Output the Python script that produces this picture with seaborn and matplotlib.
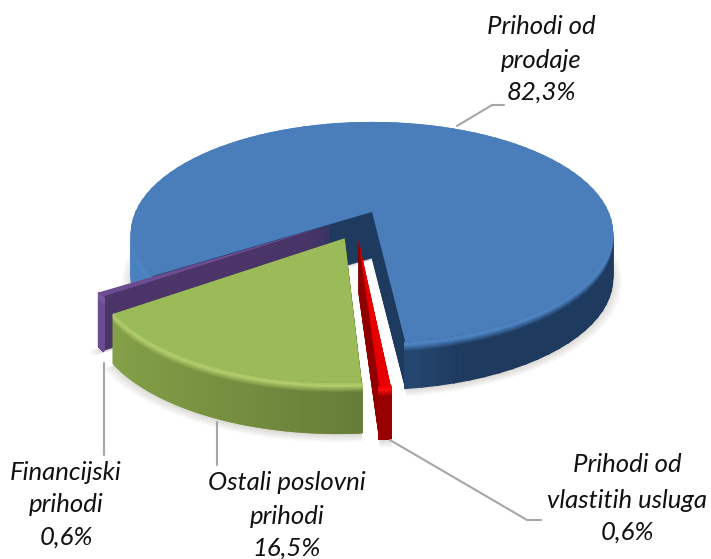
import numpy as np
import seaborn as sns
import matplotlib
matplotlib.use("Agg")
import matplotlib.pyplot as plt
from matplotlib.collections import LineCollection
from matplotlib.patches import Wedge
from matplotlib.transforms import Transform

# order is counter clockwise, starting from the cut at the front of the big slice
names = ["Prihodi od\nprodaje", "Financijski\nprihodi", "Ostali poslovni\nprihodi", "Prihodi od\nvlastitih usluga"]
shares = [82.3, 0.6, 16.5, 0.6]
explode = [0.0, 0.21, 0.26, 0.26]

top_cols = ["#4a7ebb", "#6b4c90", "#9bbb59", "#e80000"]
rim_cols = ["#4f86c6", "#7d5fa8", "#b6d06f", "#ff1010"]
wall_dark = ["#1e3a5f", "#4a3468", "#5f7433", "#8f0000"]
wall_light = ["#4a82c0", "#6a4c90", "#84a048", "#c00000"]
depths = [46, 54, 50, 52]

# projection of the flat pie onto the picture, in pixels
CX, CY = 372, 212
RX, RY, PERSP = 236, 106.7, 0.1855


class Tilt(Transform):
    input_dims = 2
    output_dims = 2

    def __init__(self, z=0):
        super().__init__()
        self.z = z

    def transform_non_affine(self, values):
        values = np.asarray(values, dtype=float)
        w = 1 + PERSP * values[:, 1]
        return np.column_stack([CX + RX * values[:, 0] / w,
                                CY - RY * values[:, 1] / w + self.z])


def mix(a, b, t):
    a, b = np.array(matplotlib.colors.to_rgb(a)), np.array(matplotlib.colors.to_rgb(b))
    return tuple(a + (b - a) * t)


def rim_colour(i, theta, z):
    f = np.clip((0.3 - np.cos(np.radians(theta))) / 1.1, 0, 1)
    wall = mix(wall_dark[i], wall_light[i], f)
    if z < 2:
        return mix(top_cols[i], rim_cols[i], z / 2)
    if z < 9:
        return mix(rim_cols[i], wall, (z - 2) / 7)
    return wall


sns.set_theme(style="white")
plt.rcParams["font.family"] = ["Lato", "DejaVu Sans"]

fig = plt.figure(figsize=(7.11, 5.59), dpi=100)
ax = fig.add_axes([0, 0, 1, 1])

wedges, _ = ax.pie(shares, explode=explode, startangle=-83.4, colors=top_cols,
                   wedgeprops=dict(linewidth=0))
ax.set_aspect("auto")
ax.autoscale(False)

# the little red slice sits left of its own radius
cx, cy = wedges[3].center
wedges[3].set_center((cx - 0.079, cy))

# soft shadow on the paper
for k in range(9):
    for i, w in enumerate(wedges):
        s = Wedge(w.center, w.r * (1 + 0.005 * k), w.theta1, w.theta2, fc="#5a5040",
                  ec="none", alpha=0.022, zorder=1,
                  transform=Tilt(depths[i] + 2) + ax.transData)
        ax.add_patch(s)

# side walls are stacks of the same slice, moved down pixel by pixel
for i, w in enumerate(wedges):
    base = 10 + i * 1000
    thetas = np.linspace(w.theta1, w.theta2, 90)
    px = w.center[0] + w.r * np.cos(np.radians(thetas))
    py = w.center[1] + w.r * np.sin(np.radians(thetas))
    pts = np.column_stack([px, py])
    segs = np.stack([pts[:-1], pts[1:]], axis=1)
    for z in range(depths[i], 0, -1):
        layer = Wedge(w.center, w.r, w.theta1, w.theta2, fc=wall_dark[i], ec=wall_dark[i],
                      lw=0.4, zorder=base + depths[i] - z,
                      transform=Tilt(z) + ax.transData)
        ax.add_patch(layer)
        cols = [rim_colour(i, t, z) for t in thetas[:-1]]
        rim = LineCollection(segs, colors=cols, linewidths=1.6, capstyle="projecting",
                             zorder=base + depths[i] - z + 0.5,
                             transform=Tilt(z) + ax.transData)
        ax.add_collection(rim, autolim=False)
    w.set_transform(Tilt(0) + ax.transData)
    w.set_zorder(base + depths[i] + 1)

# leader lines
leaders = [([457, 492, 504], [126, 105, 105]),
           ([104, 104], [363, 455]),
           ([217, 217], [422, 465]),
           ([390, 527, 541], [440, 520, 520])]
for xs, ys in leaders:
    ax.plot(xs, ys, color="#a6a6a6", lw=1.5, zorder=9000)

label_x = [541, 66, 287, 627]
label_y = [[27, 60, 92], [472, 505, 537], [483, 517, 548], [465, 500, 532]]
for name, share, x, ys in zip(names, shares, label_x, label_y):
    lines = name.split("\n") + [f"{share:.1f}%".replace(".", ",")]
    for line, y in zip(lines, ys):
        ax.text(x, y, line, ha="center", va="center", style="italic", fontsize=18.5,
                color="#111111", zorder=9100)

ax.set_xlim(0, 711)
ax.set_ylim(559, 0)
ax.axis("off")
fig.savefig("out.png", dpi=100)
